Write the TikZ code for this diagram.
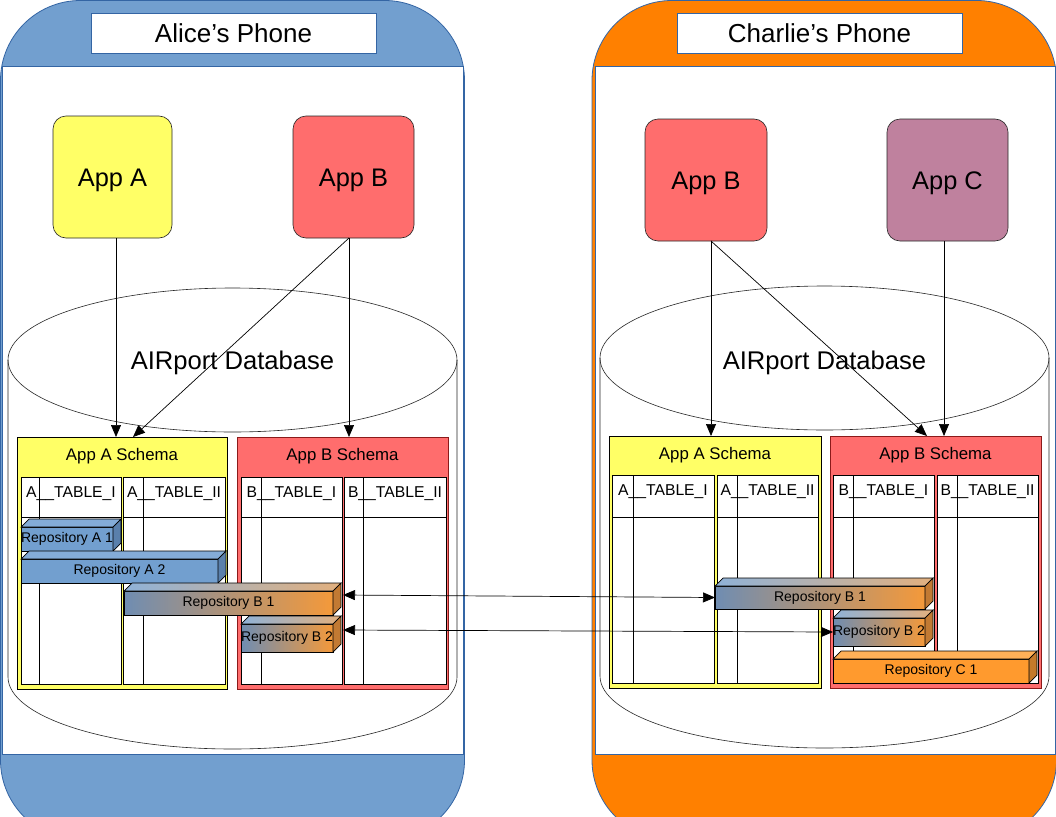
\documentclass[tikz,border=0pt]{standalone}
\usepackage{fontspec}
\setmainfont{Liberation Sans}
\usetikzlibrary{arrows.meta,calc}
\definecolor{phblue}{HTML}{729FCF}
\definecolor{phline}{HTML}{3465A4}
\definecolor{phorange}{HTML}{FF8000}
\definecolor{appyellow}{HTML}{FFFF66}
\definecolor{appred}{HTML}{FF6D6D}
\definecolor{apppurple}{HTML}{BF819E}
\definecolor{schred}{HTML}{8B1A1A}
\definecolor{rpblue}{HTML}{729FCF}
\definecolor{rpbluetop}{HTML}{84ACD8}
\definecolor{rpblueside}{HTML}{5A80AC}
\definecolor{gfl}{HTML}{6F8DB2}
\definecolor{gfr}{HTML}{F4993A}
\definecolor{gtl}{HTML}{8FB2D8}
\definecolor{gtr}{HTML}{E2B07E}
\definecolor{gside}{HTML}{C27A33}
\definecolor{rcfront}{HTML}{FF9A2E}
\definecolor{rctop}{HTML}{FFB058}
\definecolor{rcside}{HTML}{C47A2A}

\newcommand\dbtable[7]{%
  \node[tbl,minimum width={#4pt-#2pt},minimum height={#5pt-#3pt}] (#1) at ({(#2+#4)/2},{(#3+#5)/2}) {};
  \node[hdr,anchor=base] (#1-h) at (#1.north |- 0,{#3+20.5}) {#7};
  \draw[tline] (#1.west |- 0,517) -- (#1.east |- 0,517);
  \draw[tline] (#6,#3) -- (#6,#5);}

\newcommand\repo[7]{%
  \node[front#6,minimum width=#4pt,minimum height=#5pt] (#1) at (#2,#3) {#7};
  \path[top#6] (#1.north west) -- ([shift={(8pt,8pt)}]#1.north west) -- ([shift={(8pt,8pt)}]#1.north east) -- (#1.north east) -- cycle;
  \path[side#6] (#1.north east) -- ([shift={(8pt,8pt)}]#1.north east) -- ([shift={(8pt,8pt)}]#1.south east) -- (#1.south east) -- cycle;}

\begin{document}
\begin{tikzpicture}[x=1pt,y=-1pt,
  every node/.style={outer sep=0pt},
  phonel/.style={fill=phblue,draw=phline,line width=0.8pt,rounded corners=80pt},
  phoner/.style={fill=phorange,draw=phline,line width=0.8pt,rounded corners=80pt},
  screen/.style={fill=white,draw=phline,line width=0.8pt},
  title/.style={fill=white,draw=phline,line width=0.8pt,minimum width=285pt,minimum height=40pt,
    text height=19pt,text depth=0pt,font=\fontsize{26}{30}\selectfont},
  appbox/.style={draw=black!85,line width=0.6pt,rounded corners=13pt,minimum height=122pt,
    text height=18pt,text depth=0pt,font=\fontsize{25.4}{30}\selectfont},
  dbtext/.style={font=\fontsize{25.6}{30}\selectfont},
  cyl/.style={draw=black!85,line width=0.6pt},
  schA/.style={fill=appyellow,draw=black,line width=0.8pt,minimum width=211pt,minimum height=252pt},
  schB/.style={fill=appred,draw=schred,line width=0.8pt,minimum width=211pt,minimum height=252pt},
  schlabel/.style={font=\fontsize{16.8}{20}\selectfont,anchor=base},
  tbl/.style={fill=white,draw=black,line width=0.8pt,inner sep=0pt},
  tline/.style={draw=black,line width=0.8pt},
  hdr/.style={font=\fontsize{15.7}{18}\selectfont,inner sep=0pt},
  repotext/.style={font=\fontsize{14}{16}\selectfont,inner sep=0pt,draw=black,line width=0.7pt},
  fronta/.style={repotext,fill=rpblue},
  topa/.style={fill=rpbluetop,draw=black,line width=0.7pt},
  sidea/.style={fill=rpblueside,draw=black,line width=0.7pt},
  frontb/.style={repotext,left color=gfl,right color=gfr},
  topb/.style={left color=gtl,right color=gtr,draw=black,line width=0.7pt},
  sideb/.style={fill=gside,draw=black,line width=0.7pt},
  frontc/.style={repotext,fill=rcfront},
  topc/.style={fill=rctop,draw=black,line width=0.7pt},
  sidec/.style={fill=rcside,draw=black,line width=0.7pt},
  conn/.style={-{Triangle[length=12pt,width=10pt]},line width=0.7pt},
  biconn/.style={{Triangle[length=12pt,width=10pt]}-{Triangle[length=12pt,width=10pt]},line width=0.7pt},
]
\useasboundingbox (0,0) rectangle (1056,816);

% phones
\begin{scope}
  \clip (0,0) rectangle (1056,816);
  \path[phonel] (0.5,0.5) rectangle (464.5,840);
  \path[phoner] (592,0.5) rectangle (1056.5,840);
\end{scope}
\path[screen] (2,66) rectangle (463,754);
\path[screen] (595,66) rectangle (1055.5,754);
\node[title] (ltitle) at (233.5,33) {Alice’s Phone};
\node[title] (rtitle) at (819.5,33) {Charlie’s Phone};

% cylinders
\path[cyl,fill=white] (8,360) -- (8,677) arc[start angle=180,end angle=0,x radius=224.5,y radius=72] -- (457,360);
\path[cyl] (232.5,360) ellipse[x radius=224.5,y radius=72];
\node[dbtext,anchor=base] (ldb) at (232.5,369) {AIRport Database};
\path[cyl,fill=white] (600,358) -- (600,676) arc[start angle=180,end angle=0,x radius=224.5,y radius=72] -- (1049,358);
\path[cyl] (824.5,358) ellipse[x radius=224.5,y radius=72];
\node[dbtext,anchor=base] (rdb) at (824.5,369) {AIRport Database};

% apps
\node[appbox,fill=appyellow,minimum width=119pt] (lappA) at (112.5,177) {App A};
\node[appbox,fill=appred,minimum width=121pt] (lappB) at (353.5,177) {App B};
\node[appbox,fill=appred,minimum width=122pt] (rappB) at (706,180) {App B};
\node[appbox,fill=apppurple,minimum width=121pt] (rappC) at (947.5,180) {App C};

% schemas
\node[schA,minimum width=210pt] (lschA) at (122,563) {};
\node[schlabel] (lschA-t) at (122,460) {App A Schema};
\node[schB] (lschB) at (342.5,563) {};
\node[schlabel] (lschB-t) at (342.5,460) {App B Schema};
\node[schA,minimum width=212pt] (rschA) at (715,562) {};
\node[schlabel] (rschA-t) at (715,459) {App A Schema};
\node[schB] (rschB) at (935.5,562) {};
\node[schlabel] (rschB-t) at (935.5,459) {App B Schema};

% tables
\dbtable{lA1}{21}{477}{121}{684}{39}{A\_\_TABLE\_I}
\dbtable{lA2}{123}{477}{225}{684}{143}{A\_\_TABLE\_II}
\dbtable{lB1}{241}{477}{342}{684}{261}{B\_\_TABLE\_I}
\dbtable{lB2}{344}{477}{446}{684}{363}{B\_\_TABLE\_II}
\dbtable{rA1}{612}{475}{714}{683}{633}{A\_\_TABLE\_I}
\dbtable{rA2}{717}{475}{818}{683}{737}{A\_\_TABLE\_II}
\dbtable{rB1}{833}{475}{934}{683}{853}{B\_\_TABLE\_I}
\dbtable{rB2}{937}{475}{1038}{683}{957}{B\_\_TABLE\_II}

% app -> schema connectors
\draw[conn] ([xshift=3.5pt]lappA.south) -- ([xshift=3.5pt]lappA.south |- lschA.north);
\draw[conn] ([xshift=-4.5pt]lappB.south) -- ([xshift=-4.5pt]lappB.south |- lschB.north);
\draw[conn] ([xshift=-4.5pt]lappB.south) -- (lschA.north -| 133,0);
\draw[conn] ([xshift=5pt]rappB.south) -- ([xshift=5pt]rappB.south |- rschA.north);
\draw[conn] ([xshift=5pt]rappB.south) -- (rschB.north -| 927,0);
\draw[conn] ([xshift=-3.5pt]rappC.south) -- ([xshift=-3.5pt]rappC.south |- rschB.north);

% repositories
\repo{lrA1}{67}{539}{92}{24}{a}{Repository A 1}
\repo{lrA2}{119.5}{571}{197}{24}{a}{Repository A 2}
\repo{lrB1}{228.5}{603}{209}{24}{b}{Repository B 1}
\repo{lrB2}{287}{638}{92}{28}{b}{Repository B 2}
\repo{rrB1}{820}{597.5}{210}{23}{b}{Repository B 1}
\repo{rrB2}{879}{632}{92}{28}{b}{Repository B 2}
\repo{rrC1}{931}{671}{196}{24}{c}{Repository C 1}

% sync connectors
\draw[biconn] ([shift={(10pt,8pt)}]lrB1.east) -- (rrB1.west);
\draw[biconn] ([shift={(10pt,8pt)}]lrB2.east) -- (rrB2.west);
\end{tikzpicture}
\end{document}
